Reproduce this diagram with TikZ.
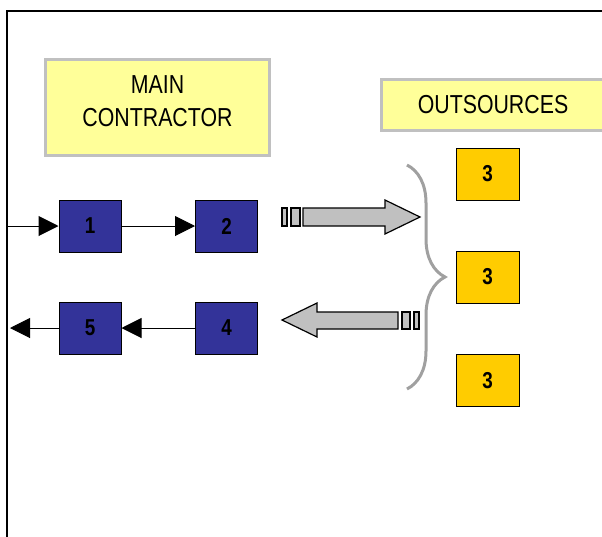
\documentclass[tikz,border=0pt]{standalone}
\usepackage{fontspec}
\setmainfont{Liberation Sans}[FakeStretch=0.82]
\usepackage{xcolor}
\usetikzlibrary{arrows.meta,positioning,decorations.pathreplacing}
\definecolor{paleyellow}{HTML}{FFFF99}
\definecolor{boxgray}{HTML}{C0C0C0}
\definecolor{stepblue}{HTML}{333399}
\definecolor{subgold}{HTML}{FFCC00}
\definecolor{bracegray}{HTML}{A0A0A0}

\begin{document}
\begin{tikzpicture}[x=1pt,y=-1pt,>={Triangle[length=20pt,width=20pt]},
    title/.style={draw=boxgray, line width=3pt, fill=paleyellow, align=center, inner sep=0pt,
                  font=\fontsize{26}{33}\selectfont},
    stepbox/.style={draw=black, line width=1pt, fill=stepblue, minimum width=62pt, minimum height=52pt,
                  inner sep=0pt, font=\fontsize{23}{23}\selectfont\bfseries},
    subbox/.style={draw=black, line width=1pt, fill=subgold, minimum width=63pt, minimum height=52pt,
                  inner sep=0pt, font=\fontsize{23}{23}\selectfont\bfseries},
    flow/.style={line width=1pt, ->},
    blockarrow/.style={draw=black, line width=1.2pt, fill=boxgray}]
  \useasboundingbox (0,0) rectangle (602,536);
  % ---------- frame ----------
  \draw[line width=2pt] (7,537) -- (7,11) -- (603,11);
  % ---------- headers ----------
  \node[title, minimum width=224pt, minimum height=96pt, text depth=12pt] (mc) at (157.5,107.5) {MAIN\\CONTRACTOR};
  \node[title, minimum width=223pt, minimum height=51pt] (out) at (493,105) {OUTSOURCES};
  % ---------- main contractor steps ----------
  \node[stepbox] (s1) at (90,226)    {1};
  \node[stepbox] (s2) at (226.5,226) {2};
  \node[stepbox] (s5) at (90,328)    {5};
  \node[stepbox] (s4) at (226.5,328) {4};
  % ---------- outsourced steps ----------
  \node[subbox] (o1) at (487.5,174)   {3};
  \node[subbox] (o2) at (487.5,277)   {3};
  \node[subbox] (o3) at (487.5,380.5) {3};
  % ---------- flow ----------
  \coordinate (in)  at (7,226);
  \coordinate (end) at (10,328);
  \draw[flow] (in) -- (s1);
  \draw[flow] (s1) -- (s2);
  \draw[flow] (s4) -- (s5);
  \draw[flow] (s5) -- (end);
  % ---------- hand over / hand back ----------
  \draw[blockarrow] (303,208) -- (385,208) -- (385,200) -- (420,217) -- (385,234) -- (385,226) -- (303,226) -- cycle;
  \draw[blockarrow] (282,208) rectangle (287,226);
  \draw[blockarrow] (291,208) rectangle (300,226);
  \draw[blockarrow] (282,320) -- (317,303) -- (317,312) -- (398,312) -- (398,329) -- (317,329) -- (317,337) -- cycle;
  \draw[blockarrow] (402,312) rectangle (410,329);
  \draw[blockarrow] (414,312) rectangle (419,329);
  % ---------- brace ----------
  \draw[bracegray, line width=3pt, decorate, decoration={brace, amplitude=38pt}] (407,165) -- (407,389);
\end{tikzpicture}
\end{document}
